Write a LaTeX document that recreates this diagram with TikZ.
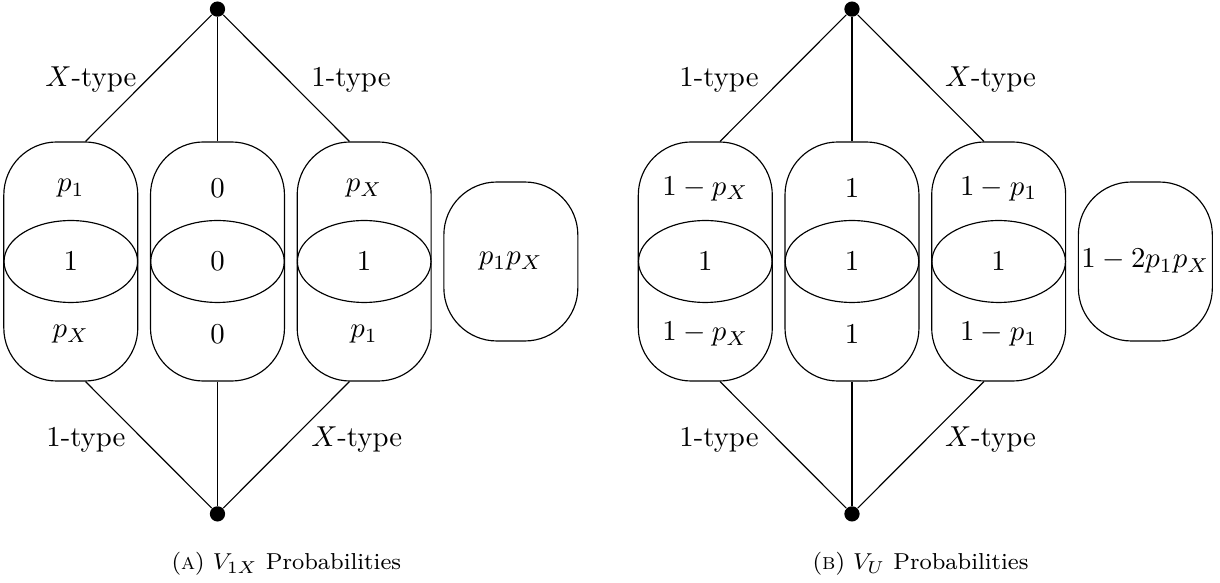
\documentclass[tikz,border=0pt]{standalone}
\usepackage{mathtools}
\usepackage {tikz}
\usetikzlibrary{shapes.geometric}
\tikzstyle{pbox} = [rectangle, rounded corners=0.647cm, minimum width=1.635cm, minimum height=2.917cm, inner sep=0pt, text centered, draw=black]
\tikzstyle{pshort} = [pbox, minimum height=1.94cm]
\tikzstyle{povl} = [ellipse, minimum width=1.63cm, minimum height=1.0cm, inner sep=0pt, draw=black]
\tikzstyle{pdot} = [circle, fill=black, minimum size=5.3pt, inner sep=0pt]
\tikzstyle{prob} = [inner sep=1pt]
\tikzstyle{kind} = [inner sep=1pt]
\tikzstyle{link} = [thin]

\begin{document}
\begin{tikzpicture}[node distance=1.79cm]
		\useasboundingbox (-2.654,-3.923) rectangle (12.234,3.191);
		% (A) V_1X
		\node (a2) [pbox] {};
		\node (a1) [pbox, left of=a2] {};
		\node (a3) [pbox, right of=a2] {};
		\node (a4) [pshort, right of=a3] {$p_1p_X$};
		\node (ae1) [povl] at (a1) {$1$};
		\node (ae2) [povl] at (a2) {$0$};
		\node (ae3) [povl] at (a3) {$1$};
		\node (at1) [prob, node distance=0.89cm, above of=ae1] {$p_1$};
		\node (ab1) [prob, node distance=0.89cm, below of=ae1] {$p_X$};
		\node (at2) [prob, node distance=0.89cm, above of=ae2] {$0$};
		\node (ab2) [prob, node distance=0.89cm, below of=ae2] {$0$};
		\node (at3) [prob, node distance=0.89cm, above of=ae3] {$p_X$};
		\node (ab3) [prob, node distance=0.89cm, below of=ae3] {$p_1$};
		\node (atop) [pdot, node distance=3.08cm, above of=a2] {};
		\node (abot) [pdot, node distance=3.08cm, below of=a2] {};
		\node (alx) [kind] at (-1.544,2.215) {$X$-type};
		\node (ar1) [kind] at (1.629,2.215) {1-type};
		\node (bl1) [kind] at (-1.605,-2.178) {1-type};
		\node (brx) [kind] at (1.699,-2.178) {$X$-type};
		\node (acap) at (0.84,-3.69) {\footnotesize(\textsc{a}) $V_{1X}$ Probabilities};

		\draw [link] (atop) -- (a1.83);
		\draw [link] (atop) -- (a2);
		\draw [link] (atop) -- (a3.97);
		\draw [link] (abot) -- (a1.-83);
		\draw [link] (abot) -- (a2);
		\draw [link] (abot) -- (a3.-97);

		% (B) V_U
		\node (b2) [pbox] at (7.743,0) {};
		\node (b1) [pbox, left of=b2] {};
		\node (b3) [pbox, right of=b2] {};
		\node (b4) [pshort, right of=b3] {$1-2p_1p_X$};
		\node (be1) [povl] at (b1) {$1$};
		\node (be2) [povl] at (b2) {$1$};
		\node (be3) [povl] at (b3) {$1$};
		\node (bt1) [prob, node distance=0.89cm, above of=be1] {$1-p_X$};
		\node (bb1) [prob, node distance=0.89cm, below of=be1] {$1-p_X$};
		\node (bt2) [prob, node distance=0.89cm, above of=be2] {$1$};
		\node (bb2) [prob, node distance=0.89cm, below of=be2] {$1$};
		\node (bt3) [prob, node distance=0.89cm, above of=be3] {$1-p_1$};
		\node (bb3) [prob, node distance=0.89cm, below of=be3] {$1-p_1$};
		\node (btop) [pdot, node distance=3.08cm, above of=b2] {};
		\node (bbot) [pdot, node distance=3.08cm, below of=b2] {};
		\node (tl1) [kind] at (6.12,2.215) {1-type};
		\node (trx) [kind] at (9.433,2.215) {$X$-type};
		\node (dl1) [kind] at (6.12,-2.178) {1-type};
		\node (drx) [kind] at (9.433,-2.178) {$X$-type};
		\node (bcap) at (8.58,-3.69) {\footnotesize(\textsc{b}) $V_U$ Probabilities};

		\draw [link] (btop) -- (b1.83);
		\draw [link] (btop) -- (b2);
		\draw [link] (btop) -- (b3.97);
		\draw [link] (bbot) -- (b1.-83);
		\draw [link] (bbot) -- (b2);
		\draw [link] (bbot) -- (b3.-97);
\end{tikzpicture}
\end{document}
